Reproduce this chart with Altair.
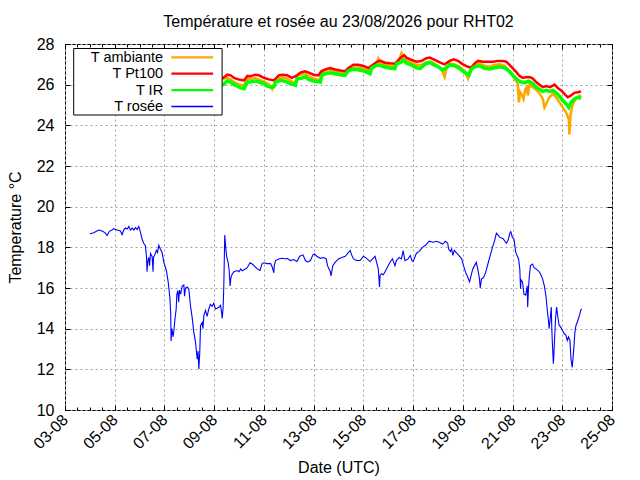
import altair as alt
import pandas as pd

START = "2026-08-03 00:00"
TITLE = "Température et rosée au 23/08/2026 pour RHT02"
SERIES_NAMES = ["T ambiante", "T Pt100", "T IR", "T rosée"]
X_LABEL_DAYS = [3, 5, 7, 9, 11, 13, 15, 17, 19, 21, 23, 25]
Y_TICKS = [10, 12, 14, 16, 18, 20, 22, 24, 26, 28]

# hours since 03-08 00:00 (UTC)
DEW_HOURS = [
    24, 27.7, 32.6, 36, 39, 40.6, 43, 45.5, 47, 50.4,
    53.5, 55.1, 56.6, 58.3, 60, 61.6, 63.1, 64.8, 66.5, 68,
    69.6, 71.2, 72.8, 74.4, 76, 77.6, 78.7, 79.2, 79.9, 80.9,
    81.6, 82.5, 84.1, 85, 85.4, 86.4, 88.3, 89.3, 90.5, 92.1,
    93.7, 95.4, 97.9, 99.6, 101.2, 102, 102.4, 103.2, 104.4, 105.1,
    106, 107.3, 108, 108.9, 109.7, 110.5, 111.6, 113.1, 114.7, 115.4,
    116.3, 117.9, 119.5, 121.1, 122.7, 124.3, 126, 127, 127.6, 128.4,
    129.2, 130.1, 130.8, 132.4, 133.2, 134, 135.6, 137.2, 138.8, 140.4,
    142, 143.6, 145.2, 146.9, 148.5, 150.1, 151.2, 151.7, 152.6, 153.3,
    154.2, 155.3, 156.2, 157.4, 158.4, 159.4, 160.1, 161.5, 163.2, 166.3,
    168, 169.7, 171.1, 172.8, 174.5, 175.9, 178.6, 180.7, 182.4, 185.5,
    188.2, 190.3, 192, 195.1, 198.5, 199.9, 201.6, 202, 203.3, 206.4,
    209.5, 212.9, 214.3, 217.7, 220.8, 223.9, 226.6, 229.7, 232.1, 234.2,
    236.9, 239.3, 240.7, 243.1, 246.5, 249.6, 252.2, 253.4, 256.1, 256.8,
    258.5, 260.9, 264, 267.1, 270.5, 273.6, 275.3, 276.7, 278.4, 281.5,
    284.9, 288, 291.1, 294.5, 296.9, 299.3, 302.4, 303.6, 304.1, 305.5,
    307.2, 308.9, 310.3, 313.7, 316.1, 318.5, 319.9, 322.6, 324.7, 326.4,
    328.1, 331.2, 333.4, 334.8, 336, 339.1, 341.8, 345.1, 348, 351.6,
    355.2, 358.8, 361.2, 364.6, 367.2, 369.4, 370.3, 372, 373.2, 374.4,
    375.8, 377.5, 380.9, 382.8, 384.7, 386.6, 388.8, 390.5, 391.9, 393.6,
    395.3, 397, 398.4, 400.1, 400.8, 402, 403.9, 406.1, 408.2, 410.4,
    412.6, 414.7, 416.4, 418.1, 419.5, 422.9, 426, 427.7, 429.4, 430.3,
    431.8, 433.4, 435.1, 437.8, 439, 439.7, 440.2, 441.6, 443, 444.7,
    446.2, 446.6, 447.4, 448.1, 449.3, 451.2, 452.9, 454.6, 456.7, 458.9,
    461, 462.7, 464.2, 465.4, 466.8, 467.3, 468.7, 469.4, 469.9, 470.4,
    471.4, 471.8, 472.3, 473.5, 474.5, 475.7, 476.9, 478.3, 480.2, 481.9,
    483.4, 484.8, 486, 487.4, 488.4, 489.6, 490.6, 491.5, 492.2, 493.2,
    494.4, 495.6, 496.6, 497.8, 498.7,
]
DEW_VALUES = [
    18.67, 18.72, 18.85, 18.8, 18.7, 18.58, 18.8, 18.85, 18.92, 18.85,
    18.8, 18.62, 18.85, 18.95, 18.9, 19.03, 18.85, 18.95, 18.85, 18.97,
    18.88, 19.03, 18.75, 18.4, 18.2, 18.08, 17.5, 16.8, 17.3, 17.5,
    17.1, 17.7, 17.55, 16.8, 17.5, 17.6, 17.85, 17.75, 18.1, 17.9,
    17.75, 17.26, 16.85, 16.3, 15.53, 14.8, 13.4, 14.0, 13.6, 13.9,
    14.4, 14.97, 15.7, 15.87, 15.3, 15.9, 15.7, 16.1, 16.15, 15.6,
    16.0, 16.05, 15.95, 15.13, 14.57, 13.84, 13.33, 12.8, 12.5, 12.9,
    12.0, 12.85, 14.15, 14.3, 14.0, 14.64, 14.9, 14.6, 14.97, 15.2,
    15.1, 15.25, 14.97, 15.0, 15.05, 15.15, 14.8, 14.5, 15.0, 16.1,
    18.6, 17.9, 17.5, 17.27, 16.9, 16.1, 16.5, 16.7, 16.8, 16.86,
    16.8, 16.94, 16.85, 16.9, 16.95, 17.0, 17.24, 17.18, 17.1, 16.94,
    16.86, 17.2, 17.24, 17.2, 17.2, 17.05, 16.75, 17.1, 17.35, 17.43,
    17.46, 17.43, 17.46, 17.35, 17.4, 17.3, 17.56, 17.63, 17.35, 17.27,
    17.35, 17.63, 17.67, 17.56, 17.46, 17.5, 17.43, 17.1, 16.8, 16.6,
    17.1, 17.27, 17.43, 17.5, 17.56, 17.75, 17.84, 17.63, 17.43, 17.35,
    17.35, 17.56, 17.46, 17.3, 17.43, 17.56, 16.94, 16.05, 16.6, 16.7,
    16.65, 16.8, 16.94, 17.27, 17.43, 17.1, 17.35, 17.5, 17.43, 17.84,
    17.35, 17.43, 17.6, 17.35, 17.3, 17.7, 17.8, 18.0, 18.1, 18.3,
    18.25, 18.3, 18.25, 18.16, 18.3, 18.2, 17.92, 17.8, 17.92, 17.6,
    17.85, 17.75, 17.56, 17.45, 17.1, 16.78, 16.53, 16.3, 16.6, 16.94,
    17.1, 17.26, 16.94, 16.45, 16.0, 16.45, 16.5, 16.78, 17.18, 17.59,
    18.0, 18.33, 18.7, 18.6, 18.5, 18.42, 18.2, 18.35, 18.7, 18.77,
    18.5, 18.4, 17.75, 17.43, 16.94, 15.96, 16.4, 16.3, 15.7, 15.65,
    16.1, 15.06, 16.0, 16.53, 17.1, 17.18, 17.0, 16.94, 16.86, 16.7,
    16.45, 16.1, 15.63, 14.98, 14.33, 14.0, 14.65, 15.06, 14.0, 13.34,
    12.28, 12.6, 13.2, 14.49, 15.06, 14.6, 14.16, 14.1, 13.92, 13.75,
    13.7, 13.42, 13.6, 13.42, 12.5, 12.1, 12.7, 13.3, 13.83, 14.16,
    14.3, 14.5, 14.65, 14.9, 14.98,
]

PT100_HOURS = [
    150, 152.6, 156.8, 160, 163.2, 168, 172.8, 176, 179.2, 183.4,
    187.2, 192, 196.8, 201.6, 206.4, 209.6, 214.4, 219.2, 224, 227.2,
    231.4, 235.2, 240, 244.8, 247.4, 251.2, 256, 260.8, 265.6, 270.4,
    273.6, 278.4, 283.2, 288, 292.8, 296.6, 300.8, 304, 308.8, 313.6,
    318.4, 321.6, 324.8, 327.4, 329.6, 334.4, 339.2, 344, 348.8, 352.1,
    356.9, 361.7, 366.5, 371.3, 375.2, 379.3, 384.2, 389, 392.2, 395.4,
    398.6, 403.4, 408.2, 413.1, 417.9, 422.7, 425.9, 429.1, 432.3, 435.5,
    438.7, 442, 445.2, 449, 451.6, 454.8, 458, 461.2, 464.4, 468.3,
    472.5, 475.7, 478.9, 482.1, 485.3, 488.5, 491.7, 494.9, 498.1,
]
PT100_VALUES = [
    26.3, 26.33, 26.49, 26.46, 26.33, 26.25, 26.21, 26.43, 26.41, 26.49,
    26.46, 26.34, 26.26, 26.21, 26.46, 26.49, 26.46, 26.33, 26.46, 26.59,
    26.66, 26.59, 26.49, 26.46, 26.66, 26.75, 26.82, 26.75, 26.7, 26.66,
    26.82, 26.98, 26.98, 26.92, 26.82, 26.95, 27.11, 27.18, 27.08, 27.05,
    27.03, 27.2, 27.36, 27.45, 27.33, 27.22, 27.13, 27.16, 27.3, 27.33,
    27.22, 27.1, 27.0, 27.17, 27.25, 27.17, 27.0, 26.88, 26.83, 27.05,
    27.17, 27.13, 27.13, 27.13, 27.17, 27.17, 27.13, 26.97, 26.8, 26.63,
    26.43, 26.33, 26.38, 26.37, 26.3, 26.13, 26.0, 25.88, 25.93, 25.88,
    26.0, 25.83, 25.72, 25.55, 25.38, 25.47, 25.6, 25.63, 25.67,
]

IR_HOURS = [
    150, 152.6, 156.8, 160, 163.2, 166.4, 169.6, 172.8, 176, 179.2,
    183.4, 187.2, 192, 195.2, 198.4, 201.6, 203.2, 208, 212.8, 217.6,
    222.4, 224, 228.8, 232, 235.2, 240, 246.4, 248, 251.2, 256,
    260.8, 265.6, 270.4, 273, 276.8, 281.6, 286.4, 291.2, 294.4, 296,
    300.8, 304, 308.8, 313.6, 318.4, 320, 324.8, 326.4, 329.6, 334.4,
    339.2, 343.1, 347.2, 351.4, 355.3, 360.1, 364.9, 368.1, 371.3, 376.1,
    380.9, 385.8, 389.9, 392.2, 395.4, 400.2, 405, 409.8, 414.7, 419.5,
    424.3, 427.5, 430.7, 433.9, 437.1, 440.4, 443.6, 447.7, 451.6, 454.8,
    458, 461.2, 464.4, 467.6, 470.9, 474.1, 477.3, 480.5, 483.7, 486.3,
    488.5, 491.7, 494.9, 498.1,
]
IR_VALUES = [
    26.0, 26.0, 26.18, 26.13, 26.0, 25.93, 25.84, 25.8, 26.13, 26.13,
    26.18, 26.13, 26.05, 25.93, 25.88, 25.89, 26.13, 26.21, 26.16, 26.05,
    25.97, 26.29, 26.33, 26.38, 26.26, 26.18, 26.13, 26.46, 26.54, 26.59,
    26.54, 26.49, 26.46, 26.66, 26.75, 26.75, 26.7, 26.62, 26.54, 26.82,
    26.95, 26.95, 26.87, 26.82, 26.79, 27.03, 27.11, 27.22, 27.05, 26.97,
    26.83, 26.8, 27.0, 27.1, 27.0, 26.88, 26.72, 26.83, 26.97, 26.93,
    26.8, 26.6, 26.47, 26.77, 26.88, 26.93, 26.8, 26.77, 26.83, 26.88,
    26.83, 26.72, 26.55, 26.38, 26.22, 26.13, 26.1, 26.17, 26.05, 25.88,
    25.77, 25.67, 25.72, 25.67, 25.72, 25.6, 25.43, 25.22, 25.05, 24.88,
    25.13, 25.3, 25.38, 25.33,
]

AMB_HOURS = [
    150, 152.6, 156.8, 160, 163.2, 168, 172.8, 176, 179.2, 183.4,
    187.2, 192, 196.8, 200, 201.6, 206.4, 209.6, 214.4, 219.2, 222.4,
    224, 225.6, 232, 235.2, 240, 246.4, 248, 251.2, 254.4, 260.8,
    265.6, 270.4, 273.6, 278.4, 283.2, 288, 292.8, 294.4, 296.6, 300.8,
    302.4, 304, 308.8, 313.6, 318.4, 321.6, 324.8, 326.4, 329.6, 334.4,
    339.2, 344, 348.8, 353.7, 358.5, 363.3, 366.5, 368.1, 371.3, 376.1,
    380.9, 385.8, 389, 392.2, 395.4, 400.2, 405, 409.8, 414.7, 419.5,
    424.3, 427.5, 430.7, 433.9, 437.1, 438.1, 439.4, 441.3, 442.6, 444.5,
    445.8, 446.8, 448.4, 451.6, 454.8, 458, 461.2, 462.8, 464.4, 467.6,
    470.9, 474.1, 477.3, 480.5, 483.7, 486.3, 486.9, 487.9, 490.1, 493.3,
    496.5, 498.1,
]
AMB_VALUES = [
    26.1, 26.3, 26.33, 26.25, 26.12, 26.0, 25.95, 26.3, 26.28, 26.33,
    26.25, 26.15, 26.02, 25.77, 25.98, 26.33, 26.35, 26.3, 26.15, 26.1,
    26.4, 26.49, 26.54, 26.42, 26.3, 26.22, 26.55, 26.65, 26.75, 26.65,
    26.58, 26.55, 26.72, 26.85, 26.85, 26.8, 26.7, 26.62, 26.9, 27.05,
    27.28, 27.05, 26.98, 26.93, 26.88, 27.12, 27.55, 27.3, 27.2, 27.1,
    26.97, 26.97, 27.1, 27.13, 26.97, 26.77, 26.38, 26.8, 27.05, 27.0,
    26.88, 26.67, 26.3, 26.88, 26.97, 27.05, 26.93, 26.88, 26.97, 27.0,
    26.93, 26.77, 26.55, 26.3, 26.05, 25.13, 25.63, 25.47, 25.3, 25.8,
    25.88, 25.47, 26.0, 25.87, 25.75, 25.58, 25.3, 24.88, 25.05, 25.38,
    25.55, 25.38, 25.13, 24.88, 24.63, 24.3, 23.55, 24.47, 25.05, 25.3,
    25.47, 25.4,
]

# ---- styles ----
FONT = "Liberation Sans"
COLORS = {"T ambiante": "#ffa500", "T Pt100": "#ff0000", "T IR": "#00ff00", "T rosée": "#0000ff"}
WIDTHS = {"T ambiante": 2.5, "T Pt100": 2.5, "T IR": 3.5, "T rosée": 1.1}
W, H = 547, 366


def frame(hours, values):
    t = pd.Timestamp(START) + pd.to_timedelta(hours, unit="h")
    return pd.DataFrame({"t": t, "v": values})


def dt(day, hour=0):
    return alt.DateTime(year=2026, month=8, date=day, hours=hour)


major_vals = [dt(d) for d in X_LABEL_DAYS]
minor_vals = [dt(3 + k // 2, 12 * (k % 2)) for k in range(45)]
xscale = alt.Scale(domain=[dt(3), dt(25)])
yscale = alt.Scale(domain=[10, 28], nice=False, zero=False)


def tick_axis(orient, values, size):
    return alt.Axis(orient=orient, values=values, offset=-size, tickSize=size,
                    ticks=True, tickColor="black", tickWidth=1, labels=False,
                    domain=False, grid=False, title=None)


main_x = alt.Axis(orient="bottom", values=major_vals, format="%d-%m",
                  labelAngle=315, labelAlign="right", labelBaseline="middle",
                  labelPadding=7, labelFont=FONT, labelFontSize=16, labelColor="black",
                  labelFlush=False, labelOverlap=False,
                  ticks=False, domain=False, grid=True, gridColor="#a0a0a0",
                  gridDash=[2, 3], gridWidth=1,
                  title="Date (UTC)", titleFont=FONT, titleFontSize=16,
                  titleFontWeight="normal", titleColor="black",
                  titleY=62, titleBaseline="alphabetic")
main_y = alt.Axis(orient="left", values=Y_TICKS, labelFont=FONT, labelFontSize=16,
                  labelColor="black", labelPadding=11, ticks=False, domain=False,
                  grid=True, gridColor="#a0a0a0", gridDash=[2, 3], gridWidth=1,
                  title="Temperature °C", titleFont=FONT, titleFontSize=16,
                  titleFontWeight="normal", titleColor="black", titleAngle=270,
                  titleX=-45, titleY=183, titleAlign="center", titleBaseline="alphabetic")


def series(df, name, xaxis, yaxis):
    return alt.Chart(df).mark_line(color=COLORS[name], strokeWidth=WIDTHS[name]).encode(
        x=alt.X("t:T", scale=xscale, axis=xaxis),
        y=alt.Y("v:Q", scale=yscale, axis=yaxis),
    )


amb = series(frame(AMB_HOURS, AMB_VALUES), "T ambiante",
             tick_axis("bottom", major_vals, 5), tick_axis("left", Y_TICKS, 5))
pt = series(frame(PT100_HOURS, PT100_VALUES), "T Pt100",
            tick_axis("top", major_vals, 5), tick_axis("right", Y_TICKS, 5))
ir = series(frame(IR_HOURS, IR_VALUES), "T IR",
            tick_axis("bottom", minor_vals, 3), None)
dew = series(frame(DEW_HOURS, DEW_VALUES), "T rosée", main_x, main_y)
ghost = alt.Chart(frame(DEW_HOURS, DEW_VALUES)).mark_line(opacity=0).encode(
    x=alt.X("t:T", scale=xscale, axis=tick_axis("top", minor_vals, 3)),
    y=alt.Y("v:Q", scale=yscale, axis=None),
)

one = pd.DataFrame({"k": [0]})

# ---- chart title (gnuplot style, centred over the plot) ----
title_layer = alt.Chart(one).mark_text(
    align="center", baseline="alphabetic", font=FONT, fontSize=16, color="black"
).encode(x=alt.value(W / 2), y=alt.value(-17), text=alt.value(TITLE))

# ---- legend box (gnuplot style: label, then line sample) ----
LEG_FS = 14.5
LEG_STEP = 16.4
legend_layers = [
    alt.Chart(one).mark_rect(fill="white", stroke="black", strokeWidth=1).encode(
        x=alt.value(8.7), x2=alt.value(157.1), y=alt.value(4.5),
        y2=alt.value(13.3 + 3 * LEG_STEP + 8.5))
]
for i, name in enumerate(SERIES_NAMES):
    ly = 13.3 + LEG_STEP * i
    legend_layers.append(
        alt.Chart(one).mark_rule(color=COLORS[name],
                                 strokeWidth=2.3 if name != "T rosée" else 1.3).encode(
            x=alt.value(106.4), x2=alt.value(148.1), y=alt.value(ly)))
    legend_layers.append(
        alt.Chart(one).mark_text(align="right", baseline="alphabetic", font=FONT,
                                 fontSize=LEG_FS, color="black").encode(
            x=alt.value(98.1), y=alt.value(ly + 4.6), text=alt.value(name)))

chart = alt.layer(amb, pt, ir, dew, ghost, *legend_layers, title_layer).resolve_axis(
    x="independent", y="independent"
).properties(
    width=W, height=H,
    padding={"left": 57, "top": 36, "right": 20, "bottom": 66},
    autosize=alt.AutoSizeParams(type="none"),
).configure_view(stroke="black", strokeWidth=1)

chart.save("out.html", embed_options={"renderer": "svg", "actions": False})
